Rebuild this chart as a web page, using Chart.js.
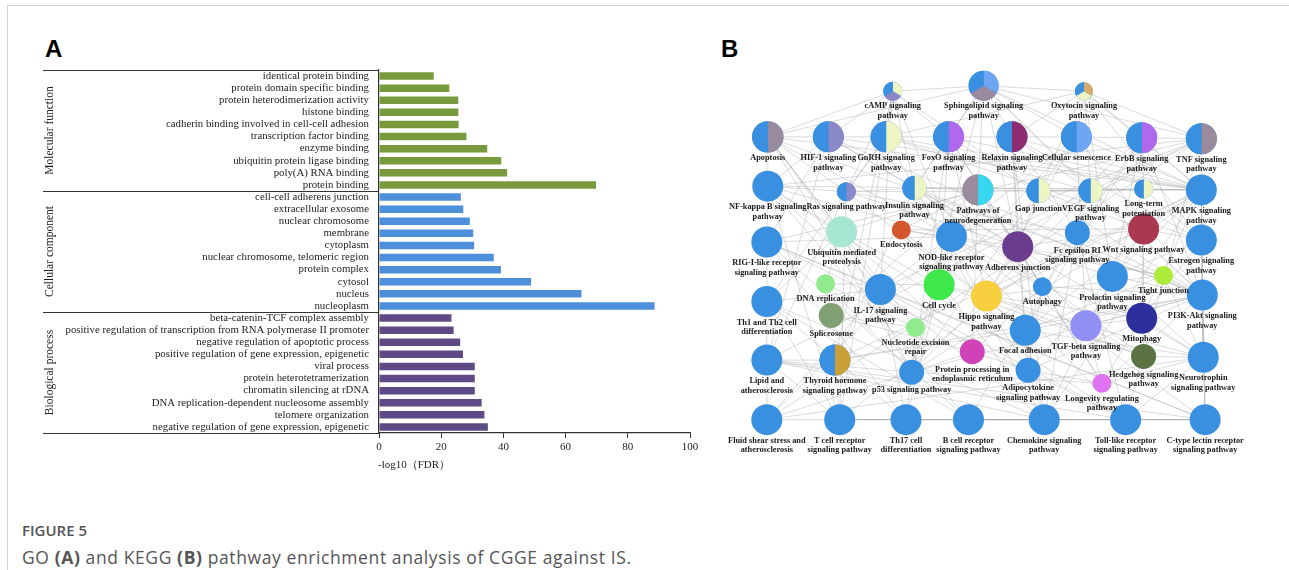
<!DOCTYPE html>
<html><head><meta charset="utf-8">
<script src="https://cdn.jsdelivr.net/npm/chart.js@4.4.0/dist/chart.umd.min.js"></script>
<style>
html,body{margin:0;padding:0;background:#fff;}
body{width:1289px;height:570px;position:relative;overflow:hidden;}
#frame{position:absolute;left:7px;top:5px;width:1300px;height:600px;border-top:1px solid #d6d6d6;border-left:1px solid #d6d6d6;}
.letter{position:absolute;font:bold 24px "Liberation Sans",Arial,sans-serif;color:#000;line-height:28px;}
#figtitle{position:absolute;left:22px;top:520px;font:600 15px "Open Sans",sans-serif;color:#555;line-height:20px;}
#figcap{position:absolute;left:22px;top:546px;font:400 17.5px "Open Sans",sans-serif;letter-spacing:0.6px;color:#555;line-height:22px;}
canvas{position:absolute;}
</style></head>
<body>
<div id="frame"></div>
<div class="letter" style="left:45px;top:35px">A</div>
<div class="letter" style="left:721px;top:35px">B</div>
<div id="figtitle">FIGURE 5</div>
<div id="figcap">GO <b>(A)</b> and KEGG <b>(B)</b> pathway enrichment analysis of CGGE against IS.</div>
<canvas id="ca" width="720" height="480" style="left:0;top:0;width:720px;height:480px"></canvas>
<canvas id="cb" width="589" height="450" style="left:700px;top:30px;width:589px;height:450px"></canvas>
<script>
// ---------- Panel A data ----------
const goGroups = ['Molecular function', 'Cellular component', 'Biological process'];
const goTerms = [
  'identical protein binding','protein domain specific binding','protein heterodimerization activity','histone binding',
  'cadherin binding involved in cell-cell adhesion','transcription factor binding','enzyme binding',
  'ubiquitin protein ligase binding','poly(A) RNA binding','protein binding',
  'cell-cell adherens junction','extracellular exosome','nuclear chromosome','membrane','cytoplasm',
  'nuclear chromosome, telomeric region','protein complex','cytosol','nucleus','nucleoplasm',
  'beta-catenin-TCF complex assembly','positive regulation of transcription from RNA polymerase II promoter',
  'negative regulation of apoptotic process','positive regulation of gene expression, epigenetic','viral process',
  'protein heterotetramerization','chromatin silencing at rDNA','DNA replication-dependent nucleosome assembly',
  'telomere organization','negative regulation of gene expression, epigenetic'
];
const goValues = [
  17.6, 22.6, 25.5, 25.5, 25.6, 28.1, 34.8, 39.3, 41.2, 69.8,
  26.3, 27.1, 29.2, 30.3, 30.6, 36.9, 39.2, 48.9, 65.1, 88.6,
  23.3, 24.0, 26.1, 27.0, 30.8, 30.8, 30.8, 33.0, 33.9, 35.0
];
const goGroupOf = [0,0,0,0,0,0,0,0,0,0, 1,1,1,1,1,1,1,1,1,1, 2,2,2,2,2,2,2,2,2,2];
const xTicks = [0, 20, 40, 60, 80, 100];
const xTitle = '-log10（FDR）';

// ---------- Panel B data ----------
const nodeLabels = [
  'cAMP signaling\npathway','Sphingolipid signaling\npathway','Oxytocin signaling\npathway',
  'Apoptosis','HIF-1 signaling\npathway','GnRH signaling\npathway','FoxO signaling\npathway',
  'Relaxin signaling\npathway','Cellular senescence','ErbB signaling\npathway','TNF signaling\npathway',
  'NF-kappa B signaling\npathway','Ras signaling pathway','Insulin signaling\npathway','Pathways of\nneurodegeneration',
  'Gap junction','VEGF signaling\npathway','Long-term\npotentiation','MAPK signaling\npathway',
  'Ubiquitin mediated\nproteolysis','Endocytosis','NOD-like receptor\nsignaling pathway','Adherens junction',
  'Fc epsilon RI\nsignaling pathway','Wnt signaling pathway','RIG-I-like receptor\nsignaling pathway','Estrogen signaling\npathway',
  'DNA replication','IL-17 signaling\npathway','Cell cycle','Hippo signaling\npathway','Autophagy',
  'Prolactin signaling\npathway','Tight junction','Th1 and Th2 cell\ndifferentiation','PI3K-Akt signaling\npathway',
  'Spliceosome','Nucleotide excision\nrepair','Focal adhesion','TGF-beta signaling\npathway','Mitophagy',
  'Protein processing in\nendoplasmic reticulum','Lipid and\natherosclerosis','Thyroid hormone\nsignaling pathway',
  'p53 signaling pathway','Hedgehog signaling\npathway','Neurotrophin\nsignaling pathway','Adipocytokine\nsignaling pathway',
  'Longevity regulating\npathway','Fluid shear stress and\natherosclerosis','T cell receptor\nsignaling pathway',
  'Th17 cell\ndifferentiation','B cell receptor\nsignaling pathway','Chemokine signaling\npathway',
  'Toll-like receptor\nsignaling pathway','C-type lectin receptor\nsignaling pathway'
];
const nodeX = [187,283,389, 55,119,180,246,313,381,450,513, 55,138,210,277,341,396,452,513,
  133,196,249,319,382,452,54,513, 116,174,236,286,345,419,473,54,514, 122,211,327,391,450,271,
  54,126,207,452,515,330,408, 54,131,201,267,347,433,517];
const nodeY = [49,43,49, 98,98,98,98,98,98,99,100, 151,157,153,155,156,156,154,155,
  200,198,205,216,201,197,211,209, 256,262,257,269,259,248,247,275,268, 290,303,306,301,293,329,
  338,338,351,334,335,349,363, 402,402,402,402,402,402,402];
const nodeR = [9.5,15,9, 15.7,15.5,15.5,15.5,15.5,15.5,15.5,15.5, 15.5,9.5,12.2,15.5,12.2,12.2,9.5,15.5,
  15.5,9.5,15.5,15.5,12.5,15.5,15.5,15.5, 9.5,15.5,15.5,15.5,9.5,15.5,9.5,15.5,15.5, 12.5,9.5,15.5,15.5,15.5,12.5,
  15.5,15.5,12.5,12.5,15.5,12.5,9.5, 15.5,15.5,15.5,15.5,15.5,15.5,15.5];
// slice colours, clockwise from 12 o'clock
const C = {blue:'#3a90e0', mauve:'#9a8a9e', lav:'#8b88c8', pale:'#eef5c2', purp:'#b068ec', maroon:'#8e2c72',
  lblue:'#6fa6f2', cyan:'#35d6ee', tan:'#d9a96a', mint:'#a6e6d2', orange:'#d4562c', dpurp:'#6b3c8e',
  crimson:'#a8394f', lgreen:'#90ea8e', green:'#3fe84a', yellow:'#f7cf3e', ygreen:'#aeea3a', sage:'#80a073',
  magenta:'#d042b8', gold:'#c9a035', peri:'#9190f5', navy:'#2c2f9c', olive:'#5b7243', violet:'#de72f0'};
const nodeSlices = [
  [C.pale,C.lav,C.blue],[C.lblue,C.mauve,C.blue],[C.tan,C.pale,C.blue],
  [C.mauve,C.blue],[C.lav,C.blue],[C.pale,C.blue],[C.purp,C.blue],[C.maroon,C.blue],[C.lblue,C.blue],[C.purp,C.blue],[C.mauve,C.blue],
  [C.blue],[C.lav,C.blue],[C.pale,C.blue],[C.cyan,C.mauve],[C.pale,C.blue],[C.pale,C.blue],[C.pale,C.blue],[C.blue],
  [C.mint],[C.orange],[C.blue],[C.dpurp],[C.blue],[C.crimson],[C.blue],[C.blue],
  [C.lgreen],[C.blue],[C.green],[C.yellow],[C.blue],[C.blue],[C.ygreen],[C.blue],[C.blue],
  [C.sage],[C.lgreen],[C.blue],[C.peri],[C.navy],[C.magenta],
  [C.blue],[C.gold,C.blue],[C.blue],[C.olive],[C.blue],[C.blue],[C.violet],
  [C.blue],[C.blue],[C.blue],[C.blue],[C.blue],[C.blue],[C.blue]
];
const edges = [
  [3,4],[4,5],[5,6],[6,7],[7,8],[8,9],[9,10],
  [49,50],[50,51],[51,52],[52,53],[53,54],[54,55],
  [3,11],[11,25],[25,34],[34,42],[42,49],
  [10,18],[18,26],[26,35],[35,46],[46,55],
  [11,12],[12,13],[13,14],[14,15],[15,16],[16,17],[17,18],
  [0,1],[0,3],[0,4],[0,5],[0,6],[0,12],[0,13],[0,15],[0,28],[0,43],[0,50],[0,21],
  [1,2],[1,3],[1,6],[1,7],[1,8],[1,10],[1,13],[1,14],[1,16],[1,22],[1,35],[1,18],[1,44],
  [2,5],[2,7],[2,8],[2,9],[2,10],[2,15],[2,16],[2,18],[2,26],[2,32],
  [3,12],[3,19],[3,28],[3,37],[3,44],[3,18],[3,21],[3,35],
  [4,11],[4,13],[4,25],[4,35],[4,46],[4,18],[4,42],
  [5,12],[5,18],[5,26],[5,16],[5,34],[5,53],
  [6,13],[6,30],[6,35],[6,44],[6,18],[6,48],[6,29],[6,31],
  [7,16],[7,18],[7,38],[7,22],[7,53],[7,26],[7,23],
  [8,29],[8,44],[8,30],[8,18],[8,35],[8,39],[8,21],
  [9,17],[9,18],[9,23],[9,35],[9,38],[9,32],[9,22],
  [10,11],[10,21],[10,28],[10,49],[10,42],[10,54],[10,25],
  [11,21],[11,28],[11,54],[11,50],[11,52],[11,19],[11,18],
  [12,16],[12,23],[12,32],[12,38],[12,50],[12,42],
  [13,18],[13,35],[13,22],[13,31],[13,47],[13,45],
  [14,19],[14,20],[14,29],[14,31],[14,41],[14,22],[14,36],
  [15,18],[15,22],[15,24],[16,38],[16,23],[16,35],[16,44],[17,26],[17,32],
  [18,24],[18,32],[18,38],[18,40],[18,44],[18,46],[18,53],[18,55],[18,30],
  [19,29],[19,44],[19,27],[19,34],[19,41],
  [20,38],[20,22],[20,24],[20,53],[20,33],
  [21,25],[21,28],[21,31],[21,49],[21,51],[21,54],[21,55],
  [22,24],[22,33],[22,38],[22,39],[22,30],
  [23,35],[23,50],[23,52],[23,53],[23,54],
  [24,30],[24,45],[24,39],[24,40],[24,26],
  [25,28],[25,54],[25,51],[25,55],[25,52],
  [26,32],[26,46],[26,40],
  [27,29],[27,36],[27,37],[27,44],
  [28,34],[28,49],[28,51],[28,53],[28,54],[28,55],
  [29,30],[29,44],[29,37],[29,45],
  [30,39],[30,45],[30,33],[30,40],
  [31,40],[31,35],[31,47],[31,41],[31,48],
  [32,35],[32,46],[32,53],[32,47],[33,38],[33,46],
  [34,50],[34,51],[34,52],[34,53],
  [35,38],[35,44],[35,48],[35,47],[35,55],[35,39],
  [36,37],[36,41],[37,44],
  [38,46],[38,47],[38,53],[38,43],
  [39,45],[39,46],[39,48],[39,40],[40,48],[40,46],
  [41,44],[41,47],
  [42,43],[42,50],[42,53],[42,54],[42,55],[42,44],
  [43,18],[43,35],[43,13],[43,50],
  [44,48],[44,51],[45,46],[46,48],[46,54],
  [47,53],[47,48],[49,44],[49,46],
  [50,52],[50,53],[50,55],[51,53],[52,55],[52,54],[53,55]
];

const SERIF = '"Liberation Serif","Times New Roman","DejaVu Serif",serif';
const groupColors = ['#789a3c', '#4e8fdc', '#5e4a84'];

// ---------- Panel A chart ----------
const goDecor = {
  id: 'goDecor',
  afterDraw(chart) {
    const ctx = chart.ctx, y = chart.scales.y, area = chart.chartArea;
    const step = y.getPixelForValue(1) - y.getPixelForValue(0);
    ctx.save();
    ctx.strokeStyle = '#333'; ctx.lineWidth = 1.2;
    [0, 10, 20, 30].forEach(s => {
      const py = Math.round(y.getPixelForValue(s) - step / 2) + 0.5;
      ctx.beginPath(); ctx.moveTo(43, py); ctx.lineTo(area.left, py); ctx.stroke();
    });
    ctx.fillStyle = '#222'; ctx.font = '11.5px ' + SERIF;
    ctx.textAlign = 'center'; ctx.textBaseline = 'middle';
    goGroups.forEach((g, gi) => {
      const mid = (y.getPixelForValue(gi * 10) + y.getPixelForValue(gi * 10 + 9)) / 2;
      ctx.save(); ctx.translate(50, mid); ctx.rotate(-Math.PI / 2); ctx.fillText(g, 0, 0); ctx.restore();
    });
    ctx.textAlign = 'left'; ctx.font = '11px ' + SERIF;
    ctx.fillText(xTitle, area.left - 1, area.bottom + 32);
    ctx.restore();
  }
};
new Chart(document.getElementById('ca'), {
  type: 'bar',
  data: { labels: goTerms, datasets: [{ data: goValues,
    backgroundColor: goGroupOf.map(g => groupColors[g]),
    barPercentage: 0.62, categoryPercentage: 1 }] },
  options: {
    indexAxis: 'y', responsive: false, animation: false, events: [],
    layout: { padding: { top: 70, right: 30, left: 0, bottom: 0 } },
    plugins: { legend: { display: false }, tooltip: { enabled: false } },
    scales: {
      x: { type: 'linear', min: 0, max: 100,
        afterBuildTicks: s => { s.ticks = xTicks.map(v => ({ value: v })); },
        ticks: { color: '#222', font: { family: SERIF, size: 11 }, padding: 3, maxRotation: 0 },
        grid: { display: true, drawOnChartArea: false, drawTicks: true, tickLength: 5, color: '#333', tickWidth: 1 },
        border: { display: true, color: '#333', width: 1.2 },
        afterFit: s => { s.height = 47; } },
      y: { ticks: { autoSkip: false, color: '#222', font: { family: SERIF, size: 10.8 }, padding: 10 },
        grid: { display: false, drawTicks: false }, border: { display: true, color: '#333', width: 1.2 },
        afterFit: s => { s.width = 379; } }
    }
  },
  plugins: [goDecor]
});

// ---------- Panel B chart ----------
const netDecor = {
  id: 'netDecor',
  beforeDatasetsDraw(chart) {
    const ctx = chart.ctx, pts = chart.getDatasetMeta(0).data;
    ctx.save();
    ctx.strokeStyle = 'rgba(165,165,165,0.5)'; ctx.lineWidth = 0.8;
    edges.forEach(([a, b]) => {
      ctx.beginPath(); ctx.moveTo(pts[a].x, pts[a].y); ctx.lineTo(pts[b].x, pts[b].y); ctx.stroke();
    });
    ctx.restore();
  },
  afterDatasetsDraw(chart) {
    const ctx = chart.ctx, pts = chart.getDatasetMeta(0).data;
    ctx.save();
    pts.forEach((p, i) => {
      const sl = nodeSlices[i];
      if (sl.length > 1) {
        const r = p.options.radius, n = sl.length;
        sl.forEach((col, k) => {
          const a0 = -Math.PI / 2 + k * 2 * Math.PI / n, a1 = a0 + 2 * Math.PI / n;
          ctx.beginPath(); ctx.moveTo(p.x, p.y); ctx.arc(p.x, p.y, r, a0, a1); ctx.closePath();
          ctx.fillStyle = col; ctx.fill();
        });
      }
    });
    ctx.fillStyle = '#1a1a1a'; ctx.font = 'bold 8.3px ' + SERIF;
    ctx.textAlign = 'center'; ctx.textBaseline = 'middle';
    pts.forEach((p, i) => {
      const lines = nodeLabels[i].split('\n');
      const y0 = p.y + p.options.radius + 5.5;
      lines.forEach((ln, k) => ctx.fillText(ln, p.x, y0 + k * 9.6));
    });
    ctx.restore();
  }
};
new Chart(document.getElementById('cb'), {
  type: 'bubble',
  data: { datasets: [{
    data: nodeX.map((x, i) => ({ x: x, y: nodeY[i], r: nodeR[i] })),
    backgroundColor: nodeSlices.map(s => s[s.length - 1]),
    borderWidth: 0, clip: false }] },
  options: {
    responsive: false, animation: false, events: [],
    layout: { padding: 0 },
    plugins: { legend: { display: false }, tooltip: { enabled: false } },
    scales: {
      x: { type: 'linear', min: 0, max: 589, display: false },
      y: { type: 'linear', min: 0, max: 450, reverse: true, display: false }
    }
  },
  plugins: [netDecor]
});
</script>
</body></html>
